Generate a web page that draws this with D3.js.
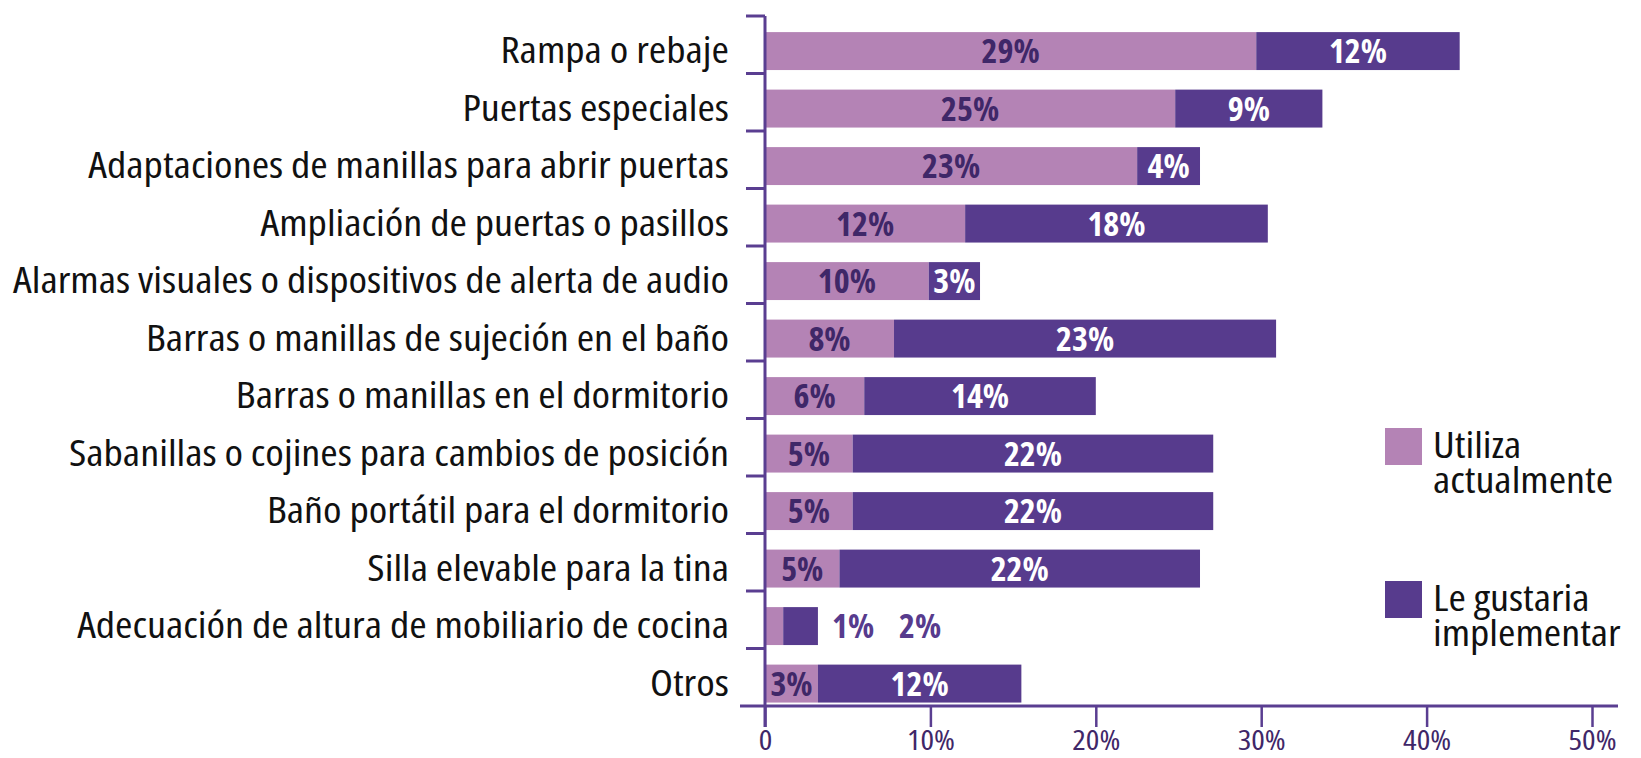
<!DOCTYPE html>
<html>
<head>
<meta charset="utf-8">
<script src="https://cdn.jsdelivr.net/npm/d3@7"></script>
<style>
	body { margin: 0; background: #fff; }
	svg { display: block; }
	text { font-family: 'Open Sans', 'Noto Sans', sans-serif; font-stretch: 75%; }
</style>
</head>
<body>
<div id="chart"></div>
<script>
// data (percent of respondents)
const categories = [
	'Rampa o rebaje',
	'Puertas especiales',
	'Adaptaciones de manillas para abrir puertas',
	'Ampliación de puertas o pasillos',
	'Alarmas visuales o dispositivos de alerta de audio',
	'Barras o manillas de sujeción en el baño',
	'Barras o manillas en el dormitorio',
	'Sabanillas o cojines para cambios de posición',
	'Baño portátil para el dormitorio',
	'Silla elevable para la tina',
	'Adecuación de altura de mobiliario de cocina',
	'Otros',
];
const usaValues = [29.7, 24.8, 22.5, 12.1, 9.9, 7.8, 6.0, 5.3, 5.3, 4.5, 1.1, 3.2];
const gustaValues = [12.3, 8.9, 3.8, 18.3, 3.1, 23.1, 14.0, 21.8, 21.8, 21.8, 2.1, 12.3];
const usaLabels = ['29%', '25%', '23%', '12%', '10%', '8%', '6%', '5%', '5%', '5%', '1%', '3%'];
const gustaLabels = ['12%', '9%', '4%', '18%', '3%', '23%', '14%', '22%', '22%', '22%', '2%', '12%'];
const xTicks = [0, 10, 20, 30, 40, 50];
const seriesNames = [['Utiliza', 'actualmente'], ['Le gustaria', 'implementar']];

const W = 1641, H = 758;
const colorUsa = '#b483b5', colorGusta = '#573b8d';
const axisColor = '#5a3e91', darkText = '#3f2768';
const widen = 1.14; // the source font is a bit wider than the condensed face

const svg = d3.select('#chart').append('svg').attr('width', W).attr('height', H);

// scales
const x = d3.scaleLinear().domain([0, 50]).range([765, 1592]);
const y = d3.scaleBand().domain(categories).range([16, 706]);
const bw = y.bandwidth();
const barTop = (d) => y(d) + bw * 0.28;
const barH = bw * 0.66;

// category labels
svg.append('g')
	.selectAll('text')
	.data(categories)
	.join('text')
	.attr('transform', (d) => `translate(729,${barTop(d) + barH / 2}) scale(${widen},1)`)
	.attr('dy', '0.33em')
	.attr('text-anchor', 'end')
	.style('font-size', '37px')
	.style('fill', '#111')
	.text((d) => d);

// bars
const rows = categories.map((c, i) => ({ c, a: usaValues[i], b: gustaValues[i], la: usaLabels[i], lb: gustaLabels[i] }));
const g = svg.append('g');
g.selectAll('.usa')
	.data(rows)
	.join('rect')
	.attr('x', x(0) + 1)
	.attr('y', (d) => barTop(d.c))
	.attr('width', (d) => x(d.a) - x(0) - 1)
	.attr('height', barH)
	.attr('fill', colorUsa);
g.selectAll('.gusta')
	.data(rows)
	.join('rect')
	.attr('x', (d) => x(d.a))
	.attr('y', (d) => barTop(d.c))
	.attr('width', (d) => x(d.a + d.b) - x(d.a))
	.attr('height', barH)
	.attr('fill', colorGusta);

// value labels: inside the segment, or after the bar when it is too narrow
const labelStyle = (sel) => sel
	.attr('dy', '0.36em')
	.style('font-size', '34px')
	.style('font-weight', 'bold');
rows.forEach((d) => {
	const cy = barTop(d.c) + barH / 2;
	const narrow = x(d.b) - x(0) < 40 || x(d.a) - x(0) < 30;
	if (narrow) {
		const x1 = x(d.a + d.b) + 14;
		g.append('text').call(labelStyle).attr('x', x1).attr('y', cy)
			.style('fill', colorGusta).text(d.la);
		g.append('text').call(labelStyle).attr('x', x1 + 67).attr('y', cy)
			.style('fill', colorGusta).text(d.lb);
		return;
	}
	g.append('text').call(labelStyle)
		.attr('x', (x(0) + x(d.a)) / 2).attr('y', cy)
		.attr('text-anchor', 'middle')
		.style('fill', darkText).text(d.la);
	g.append('text').call(labelStyle)
		.attr('x', (x(d.a) + x(d.a + d.b)) / 2).attr('y', cy)
		.attr('text-anchor', 'middle')
		.style('fill', '#fff').text(d.lb);
});

// x axis
const xAxis = svg.append('g')
	.attr('transform', 'translate(0,706)')
	.call(d3.axisBottom(x).tickValues(xTicks).tickSize(21).tickPadding(3)
		.tickFormat((d) => (d === 0 ? '0' : d + '%')));
xAxis.select('.domain').remove();
xAxis.append('line').attr('x1', 740).attr('x2', 1618).attr('stroke', axisColor).attr('stroke-width', 3);
xAxis.selectAll('.tick line').attr('stroke', axisColor).attr('stroke-width', 2.5);
xAxis.selectAll('.tick text')
	.attr('transform', `scale(${widen},1)`)
	.style('font-size', '28px')
	.style('fill', darkText);

// y axis with ticks between the bands
const yTicks = categories.map((c) => y(c));
const yAxis = svg.append('g');
yAxis.append('line').attr('x1', 765).attr('x2', 765).attr('y1', 16).attr('y2', 727)
	.attr('stroke', axisColor).attr('stroke-width', 3);
yAxis.selectAll('.yt')
	.data(yTicks)
	.join('line')
	.attr('x1', 746).attr('x2', 765)
	.attr('y1', (d) => d).attr('y2', (d) => d)
	.attr('stroke', axisColor).attr('stroke-width', 3);

// legend
const legend = svg.append('g').attr('transform', 'translate(1385,428)');
[colorUsa, colorGusta].forEach((col, i) => {
	const lg = legend.append('g').attr('transform', `translate(0,${i * 153})`);
	lg.append('rect').attr('width', 37).attr('height', 37).attr('fill', col);
	lg.append('text')
		.attr('transform', `translate(48,0) scale(${widen + 0.03},1)`)
		.style('font-size', '36px')
		.style('fill', '#111')
		.selectAll('tspan')
		.data(seriesNames[i])
		.join('tspan')
		.attr('x', 0)
		.attr('y', (t, j) => 30 + j * 35)
		.text((t) => t);
});
</script>
</body>
</html>
